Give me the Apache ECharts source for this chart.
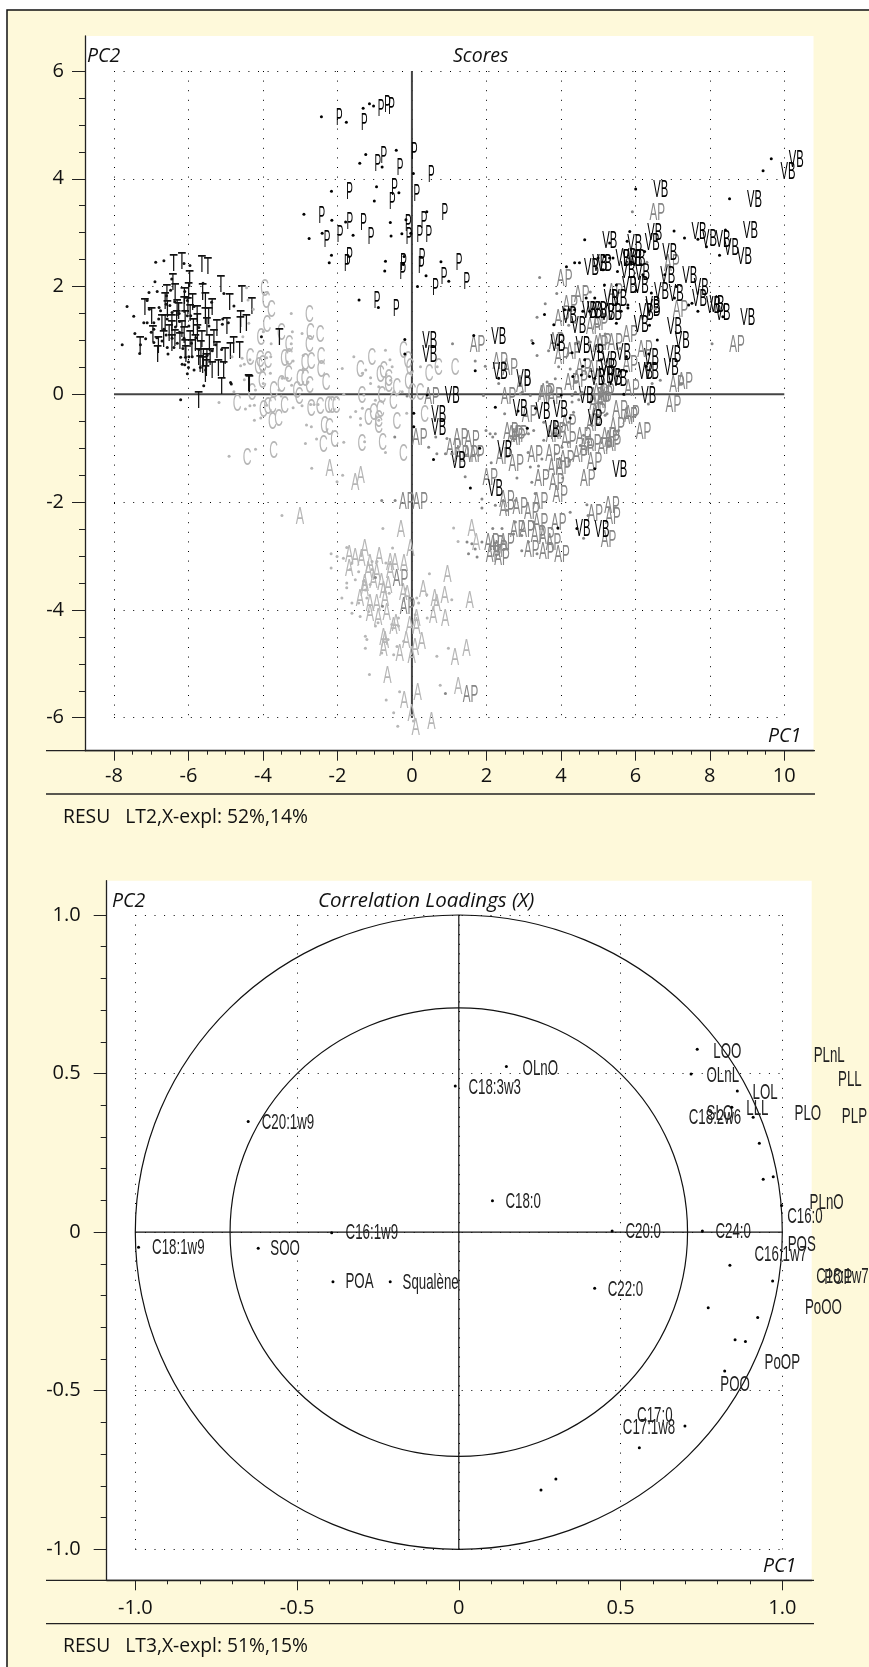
<!DOCTYPE html>
<html><head><meta charset="utf-8">
<style>html,body{margin:0;padding:0;background:#fff}#c{width:869px;height:1667px}</style>
<script src="https://cdn.jsdelivr.net/npm/echarts@6/dist/echarts.min.js"></script>
</head><body><div id="c"></div>
<script>
const pPoints=[[-2.43,5.15],[-1.76,5.05],[-1.31,5.31],[-1.14,5.39],[-1.03,5.35],[-1.24,4.45],[-1.40,4.29],[-0.80,4.22],[-0.42,4.53],[0.04,4.10],[-2.16,3.77],[-0.95,3.85],[-1.01,3.59],[-0.35,3.74],[-2.90,3.34],[-2.15,3.23],[-1.78,3.20],[-2.41,2.99],[-2.76,2.89],[-1.58,2.95],[-0.58,3.19],[-0.16,3.24],[-0.56,2.94],[-0.27,2.98],[-0.03,2.99],[-2.16,2.58],[-2.22,2.44],[-0.71,2.47],[-0.73,2.29],[-0.21,2.56],[-0.23,2.41],[0.15,2.0],[-1.42,1.75],[-0.90,1.61],[0.40,3.39],[0.78,2.46],[0.99,2.10],[0.38,2.20]];
const tPoints=[[-6.88,2.45],[-6.66,2.48],[-6.12,2.43],[-5.96,2.39],[-6.90,2.09],[-6.45,2.14],[-5.61,2.06],[-5.05,1.87],[-5.38,1.71],[-6.10,1.91],[-7.06,1.89],[-6.84,1.91],[-6.48,1.93],[-6.59,1.83],[-6.37,1.72],[-6.03,1.74],[-7.65,1.63],[-7.11,1.74],[-7.05,1.58],[-6.79,1.61],[-6.60,1.67],[-6.44,1.52],[-5.85,1.63],[-7.47,1.45],[-7.11,1.33],[-7.20,1.33],[-6.93,1.33],[-6.57,1.40],[-6.24,1.35],[-6.03,1.46],[-5.94,1.46],[-5.08,1.40],[-4.93,1.33],[-5.72,1.24],[-5.45,1.27],[-5.09,1.30],[-7.44,1.13],[-6.93,1.21],[-6.66,1.21],[-6.24,1.15],[-5.99,1.27],[-7.15,1.03],[-6.71,0.99],[-6.44,1.04],[-6.12,1.04],[-5.92,0.95],[-7.78,0.92],[-7.29,0.92],[-6.93,0.96],[-6.57,0.87],[-5.27,0.92],[-5.11,0.83],[-7.31,0.76],[-6.39,0.87],[-5.72,0.83],[-5.50,0.72],[-5.36,0.81],[-6.21,0.69],[-6.08,0.69],[-5.99,0.70],[-5.90,0.70],[-6.17,0.56],[-6.03,0.38],[-5.68,0.50],[-5.54,0.45],[-5.59,0.16],[-4.87,0.22],[-4.85,0.19],[-6.21,-0.10],[-4.78,1.64],[-4.04,1.07],[-6.8,1.4],[-6.6,1.1],[-6.35,1.25],[-6.3,0.95],[-6.75,1.55],[-6.5,1.65],[-6.25,1.5],[-7.0,1.15],[-6.85,1.05],[-6.55,0.75],[-6.15,0.85],[-5.85,0.45],[-5.8,1.05],[-6.0,0.6],[-6.1,0.55],[-6.0,0.5]];
const cPoints=[[-4.44,1.98],[-4.40,1.75],[-4.26,1.58],[-4.38,1.32],[-3.99,1.16],[-4.54,1.07],[-3.78,0.94],[-3.24,1.50],[-3.21,1.16],[-2.95,1.13],[-3.24,0.94],[-3.90,0.68],[-3.79,0.70],[-4.83,0.70],[-4.56,0.67],[-4.35,0.64],[-4.60,0.53],[-4.50,0.56],[-3.35,0.60],[-3.19,0.62],[-2.92,0.72],[-2.92,0.47],[-3.80,0.39],[-4.50,0.27],[-3.99,0.20],[-4.20,0.08],[-3.48,0.30],[-3.35,0.30],[-3.23,0.17],[-2.79,0.23],[-3.57,0.08],[-3.51,-0.03],[-4.78,0.05],[-5.18,-0.15],[-4.47,-0.27],[-4.35,-0.21],[-4.23,-0.20],[-3.90,-0.20],[-4.23,-0.48],[-4.06,-0.44],[-3.19,-0.25],[-2.95,-0.21],[-2.72,-0.19],[-2.63,-0.19],[-2.52,-0.19],[-2.83,-0.57],[-2.70,-0.60],[-2.86,-0.91],[-2.56,-0.83],[-4.20,-1.02],[-4.91,-1.15],[-1.56,0.70],[-1.87,0.48],[-1.33,0.39],[-1.24,0.45],[-1.11,0.31],[-1.11,0.20],[-0.89,0.14],[-0.57,0.26],[-0.71,0.82],[-0.59,0.64],[-0.53,0.51],[-0.02,0.41],[0.23,0.51],[-0.48,0.05],[-0.26,0.05],[-1.83,0.00],[-1.29,-0.01],[-0.98,-0.11],[-1.33,-0.26],[-1.51,-0.32],[-1.65,-0.42],[-1.38,-0.45],[-1.38,-0.57],[-0.89,-0.48],[-0.14,-0.35],[-1.83,-0.89],[-1.27,-0.88],[-0.71,-1.08],[0.68,0.51]];
const aPoints=[[-2.69,-1.37],[-1.86,-1.50],[-2.01,-1.62],[-3.49,-2.25],[-0.78,-2.49],[1.12,-2.48],[1.24,-2.73],[-0.52,-2.85],[-1.75,-2.84],[-2.17,-2.96],[-2.01,-3.01],[-1.84,-3.04],[-1.36,-2.99],[-2.17,-3.22],[-1.61,-3.13],[-1.66,-3.25],[-1.07,-3.10],[-0.94,-3.10],[-0.70,-3.13],[-1.43,-3.29],[-1.07,-3.25],[-1.75,-3.50],[-1.52,-3.44],[-1.30,-3.47],[-1.12,-3.53],[-1.75,-3.59],[-1.25,-3.63],[-1.88,-3.78],[-1.61,-3.87],[-1.43,-3.87],[-1.21,-3.78],[-0.72,-3.66],[-0.61,-3.69],[-0.18,-3.61],[0.47,-3.33],[0.13,-3.78],[0.40,-3.72],[0.18,-3.87],[1.07,-3.81],[-1.61,-4.06],[-1.39,-4.12],[-1.16,-4.03],[0.09,-4.09],[0.41,-4.15],[-0.98,-4.30],[-0.91,-4.24],[-0.36,-4.15],[-0.36,-4.30],[-0.54,-4.27],[-1.25,-4.49],[-1.21,-4.55],[-1.25,-4.71],[-0.64,-4.55],[-0.22,-4.58],[-0.40,-4.68],[-0.81,-4.80],[-0.49,-4.83],[0.98,-4.71],[0.67,-4.86],[-1.14,-5.20],[0.76,-5.40],[-0.33,-5.52],[-0.69,-5.67],[-0.49,-5.91],[-0.38,-6.16],[0.04,-6.06]];
const apPoints=[[-0.46,-0.79],[-0.81,-1.97],[-0.45,-1.97],[-0.98,-3.40],[-0.79,-3.93],[0.90,-5.55],[-0.13,-0.03],[1.92,-0.02],[2.96,0.04],[3.18,-0.02],[2.49,-0.36],[1.99,-0.67],[2.10,-0.73],[2.24,-0.73],[2.17,-0.79],[0.64,-0.79],[0.94,-0.82],[0.45,-0.98],[0.67,-1.10],[0.90,-1.10],[1.07,-1.10],[1.79,-1.13],[2.13,-1.27],[2.64,-1.10],[3.12,-1.08],[3.13,-0.73],[3.27,-0.67],[3.54,-0.52],[3.54,-0.85],[3.94,-0.76],[3.49,-1.20],[3.85,-1.10],[4.03,-0.98],[4.21,-0.52],[4.23,-1.24],[1.43,-1.53],[3.18,-1.35],[3.40,-1.33],[2.82,-1.55],[3.22,-1.63],[4.05,-1.55],[3.31,-1.84],[2.78,-1.97],[1.88,-1.94],[1.88,-2.11],[2.24,-2.06],[2.55,-2.15],[2.78,-2.37],[2.17,-2.49],[2.42,-2.49],[2.73,-2.59],[2.95,-2.62],[3.27,-2.37],[3.13,-2.74],[2.95,-2.90],[2.55,-2.87],[3.36,-2.96],[1.48,-2.74],[1.61,-2.77],[1.70,-2.87],[1.52,-2.96],[1.75,-3.02],[4.25,-2.19],[4.70,-2.05],[4.73,-2.25],[4.61,-2.67],[1.88,-2.74],[4.92,-0.27],[5.24,-0.36],[4.84,-0.58],[4.61,-0.76],[4.70,-0.83],[4.52,-0.95],[4.74,-0.89],[4.21,-0.89],[4.39,0.04],[4.30,-0.14],[4.57,0.04],[4.34,-0.33],[4.48,-0.10],[5.24,0.13],[3.43,2.17],[3.89,1.87],[3.58,1.68],[3.36,1.43],[4.21,1.28],[4.39,1.34],[6.31,2.45],[6.54,1.59],[4.79,1.90],[3.22,1.00],[5.19,1.12],[4.79,0.97],[4.39,0.94],[3.36,0.72],[3.67,0.81],[5.59,0.85],[3.94,0.51],[5.19,0.57],[3.63,0.23],[3.85,0.29],[4.25,0.47],[6.45,0.20],[6.67,0.26],[2.91,0.01],[4.30,-0.02],[4.52,0.01],[6.35,-0.18],[5.92,3.39],[1.09,0.94],[1.70,0.62],[1.97,0.52],[2.33,0.20],[8.06,0.94],[5.55,-0.67],[5.19,-0.39],[4.48,0.97]];
const vbPoints=[[4.64,2.87],[5.31,2.81],[5.78,2.84],[5.85,3.02],[7.04,3.03],[6.25,2.65],[6.79,2.22],[6.20,2.22],[4.15,2.37],[4.37,2.44],[4.50,2.44],[5.00,2.53],[5.17,2.56],[5.31,2.53],[5.40,2.53],[5.13,2.31],[5.52,2.28],[5.17,2.03],[5.49,2.03],[6.03,1.93],[6.43,1.88],[7.10,2.0],[7.05,1.79],[4.91,1.79],[4.68,1.79],[3.56,1.48],[3.81,1.29],[4.10,1.57],[4.23,1.57],[4.37,1.57],[4.59,1.54],[4.77,1.54],[5.80,1.66],[5.62,1.54],[5.80,1.60],[5.49,1.32],[6.38,1.28],[6.59,1.01],[3.25,0.95],[3.92,0.92],[4.30,0.77],[4.64,0.64],[5.01,0.80],[5.76,0.70],[6.36,0.75],[6.29,0.52],[4.59,0.52],[4.32,0.33],[4.55,0.36],[4.77,0.33],[4.91,0.30],[5.60,0.43],[5.76,0.43],[5.69,0.0],[4.01,-0.01],[2.33,0.30],[6.01,3.81],[8.53,3.63],[9.65,4.37],[9.43,4.15],[7.32,2.90],[7.68,2.88],[7.91,2.74],[8.26,2.58],[8.42,3.05],[7.52,1.69],[7.43,1.66],[7.68,1.54],[8.35,1.44],[1.66,1.09],[1.70,0.44],[0.41,-0.01],[0.05,-0.35],[0.05,-0.60],[2.24,-0.24],[2.85,-0.31],[3.32,-0.26],[3.10,-0.63],[4.25,-0.44],[1.82,-1.0],[0.58,-1.21],[1.57,-1.74],[4.91,-1.38],[3.92,-2.48],[4.43,-2.49],[-0.19,1.02],[-0.19,0.75]];
const scoreXTicks=[-8,-6,-4,-2,0,2,4,6,8,10];
const scoreYTicks=[-6,-4,-2,0,2,4,6];
const scoreHorizontalZero=[[-8,0],[10,0]];
const scoreVerticalZero=[[0,6],[0,-6]];
const loadingDots=[[.737,.577],[.718,.499],[.861,.445],[.844,.394],[.910,.362],[.929,.280],[.941,.167],[.972,.175],[.998,.084],[.474,.004],[.753,.004],[.838,-.104],[.970,-.154],[.771,-.238],[.924,-.269],[.854,-.339],[.886,-.345],[.822,-.438],[.420,-.177],[.699,-.611],[.558,-.680],[.300,-.778],[.254,-.813],[-.651,.349],[-.393,-.002],[-.990,-.048],[-.620,-.051],[-.389,-.156],[-.212,-.156],[.104,.099],[.147,.522],[-.011,.461]];
const loadingLabels=[['C20:1w9',-.528,.343],['C18:1w9',-.867,-.051],['SOO',-.537,-.054],['C16:1w9',-.269,-.004],['POA',-.307,-.156],['Squalène',-.087,-.159],['C18:0',.199,.096],['C18:3w3',.111,.455],['OLnO',.252,.515],['C22:0',.515,-.182],['C20:0',.570,0],['C24:0',.848,0],['LOO',.830,.569],['OLnL',.816,.493],['LOL',.947,.440],['LLL',.923,.389],['SLO',.807,.373],['C18:2w6',.792,.359],['PLnL',1.145,.554],['PLL',1.209,.480],['PLO',1.079,.373],['PLP',1.223,.364],['PLnO',1.137,.093],['C16:0',1.070,.047],['POS',1.060,-.040],['C16:1w7',.995,-.072],['C18:1w7',1.186,-.140],['POP',1.173,-.144],['PoOO',1.127,-.240],['PoOP',1.0,-.412],['POO',.854,-.482],['C17:0',.606,-.579],['C17:1w8',.588,-.617]];
const circleRadii=[1,0.7071];
const loadingHorizontalZero=[[-1,0],[1,0]];
const loadingVerticalZero=[[0,1],[0,-1]];
const loadingTicks=[-1,-0.5,0,0.5,1];
const scoreFooter='RESU   LT2,X-expl: 52%,14%';
const loadingFooter='RESU   LT3,X-expl: 51%,15%';

const CREAM='#fef9da', LIGHT='#b6b6b6', MID='#868686', BLACK='#000';
const AXISFONT='"Open Sans"', ITFONT='"Open Sans"', MARKFONT='"Liberation Sans"';

const classes=[
 {t:'C',pts:cPoints,col:LIGHT,dx:18,sx:.55},
 {t:'A',pts:aPoints,col:LIGHT,dx:18,sx:.57},
 {t:'AP',pts:apPoints,col:MID,dx:25,sx:.53},
 {t:'P',pts:pPoints,col:BLACK,dx:18,sx:.45},
 {t:'T',pts:tPoints,col:'#111',dx:18,sx:.62},
 {t:'VB',pts:vbPoints,col:BLACK,dx:25,sx:.51}
];

function labelSeries(c){
 return {type:'custom',xAxisIndex:1,yAxisIndex:1,coordinateSystem:'cartesian2d',clip:false,silent:true,z:3,
  data:c.pts,encode:{x:0,y:1},
  renderItem:(p,api)=>{const q=api.coord([api.value(0),api.value(1)]);
   return {type:'text',x:q[0]+c.dx,y:q[1]+1.5,scaleX:c.sx,scaleY:1.12,
    style:{text:c.t,font:'22px '+MARKFONT,fill:c.col,align:'center',verticalAlign:'middle'}};}};
}
function dotSeries(data,col,xi,size){
 return {type:'scatter',xAxisIndex:xi,yAxisIndex:xi,data,symbol:'circle',symbolSize:size,itemStyle:{color:col,opacity:1},silent:true,z:3,clip:false};
}
function refLine(data,xi,col,w){
 return {type:'line',xAxisIndex:xi,yAxisIndex:xi,data,symbol:'none',silent:true,z:2,lineStyle:{color:col,width:w,type:'solid'}};
}
function outerAxes(g){
 const line={show:true,onZero:false,lineStyle:{color:'#222',width:1.3}};
 return [
  {type:'value',gridIndex:g,min:0,max:1,position:'bottom',axisLine:line,axisTick:{show:false},axisLabel:{show:false},splitLine:{show:false}},
  {type:'value',gridIndex:g,min:0,max:1,position:'left',axisLine:line,axisTick:{show:false},axisLabel:{show:false},splitLine:{show:false}}
 ];
}
function innerAxis(dim,g,min,max,interval,off,minorN,major,minor,margin,fmt){
 return {type:'value',gridIndex:g,min,max,interval,position:dim==='x'?'bottom':'left',offset:off,
  axisLine:{show:false,onZero:false},
  axisTick:{show:true,length:major,lineStyle:{color:'#222',width:1}},
  minorTick:{show:true,splitNumber:minorN,length:minor,lineStyle:{color:'#222',width:1}},
  axisLabel:{show:true,margin,fontFamily:AXISFONT,fontSize:20,color:'#111',formatter:fmt,showMinLabel:true,showMaxLabel:true,hideOverlap:false},
  splitLine:{show:true,lineStyle:{color:'#000',width:1,type:[1,8.6]}},
  minorSplitLine:{show:false}};
}
const intFmt=v=>scoreXTicks.concat(scoreYTicks).includes(v)?String(v):'';
const decFmt=v=>loadingTicks.includes(v)?(v===0?'0':v.toFixed(1)):'';

function gText(text,x,y,o){
 return {type:'text',x,y,silent:true,z:10,style:Object.assign({text,fontFamily:ITFONT,fontSize:19,fill:'#111',align:'left',verticalAlign:'middle'},o||{})};
}
function gLine(x1,y1,x2,y2,w){
 return {type:'line',silent:true,z:10,shape:{x1,y1,x2,y2},style:{stroke:'#222',lineWidth:w||1.3}};
}
const it={fontStyle:'italic',fontSize:19.5};

const chart=echarts.init(document.getElementById('c'),null,{renderer:'canvas',width:869,height:1667});
chart.setOption({
 animation:false,
 backgroundColor:'transparent',
 grid:[
  {left:85,right:55.5,top:36,bottom:916.3,show:true,backgroundColor:'#fff',borderWidth:0,containLabel:false},
  {left:114,right:84.7,top:71,bottom:949.3,containLabel:false},
  {left:106.7,right:57.3,top:880.7,bottom:86.7,show:true,backgroundColor:'#fff',borderWidth:0,containLabel:false},
  {left:135.3,right:86.7,top:915,bottom:117.7,containLabel:false}
 ],
 xAxis:[
  outerAxes(0)[0],
  innerAxis('x',1,-8,10,2,33,4,10,4,16,intFmt),
  outerAxes(2)[0],
  innerAxis('x',3,-1,1,0.5,31,5,10,4,18,decFmt)
 ],
 yAxis:[
  outerAxes(0)[1],
  innerAxis('y',1,-6,6,2,29,4,13,6,21,intFmt),
  outerAxes(2)[1],
  innerAxis('y',3,-1,1,0.5,28.6,5,13,6,26,decFmt)
 ],
 graphic:[
  {type:'rect',silent:true,z:-10,shape:{x:7,y:10,width:870,height:1670},style:{fill:CREAM,stroke:'#111',lineWidth:1.5}},
  gLine(46,750.7,815,750.7), gLine(46,794,815,794),
  gLine(46,1580.3,814,1580.3), gLine(46,1623.7,814,1623.7),
  gText('PC2',87,56,it), gText('Scores',453,56,it), gText('PC1',768,736,it),
  gText('PC2',112,901,it), gText('Correlation Loadings (X)',318,901,Object.assign({},it,{fontSize:20.5})), gText('PC1',763,1566,it),
  gText(scoreFooter,63,818,{fontSize:19.3}), gText(loadingFooter,63,1647,{fontSize:19.3})
 ],
 series:[
  refLine(scoreHorizontalZero,1,'#444',2), refLine(scoreVerticalZero,1,'#444',2),
  refLine(loadingHorizontalZero,3,'#111',1.2), refLine(loadingVerticalZero,3,'#111',1.2),
  ...classes.map(c=>dotSeries(c.pts,c.col,1,3)),
  ...classes.map(labelSeries),
  {type:'custom',xAxisIndex:3,yAxisIndex:3,coordinateSystem:'cartesian2d',clip:false,silent:true,z:2,
   data:circleRadii.map(r=>[0,0,r]),encode:{x:0,y:1},
   renderItem:(p,api)=>{const q=api.coord([api.value(0),api.value(1)]);const s=api.size([api.value(2),api.value(2)]);
    return {type:'ellipse',shape:{cx:q[0],cy:q[1],rx:s[0],ry:s[1]},style:{fill:'none',stroke:'#111',lineWidth:1.2}};}},
  dotSeries(loadingDots,'#000',3,3),
  {type:'custom',xAxisIndex:3,yAxisIndex:3,coordinateSystem:'cartesian2d',clip:false,silent:true,z:3,
   data:loadingLabels.map(l=>[l[1],l[2]]),encode:{x:0,y:1},
   renderItem:(p,api)=>{const q=api.coord([api.value(0),api.value(1)]);
    return {type:'text',x:q[0],y:q[1],scaleX:.7,scaleY:1.15,
     style:{text:loadingLabels[p.dataIndex][0],font:'19px '+MARKFONT,fill:'#222',align:'center',verticalAlign:'middle'}};}}
 ]
});
</script></body></html>
